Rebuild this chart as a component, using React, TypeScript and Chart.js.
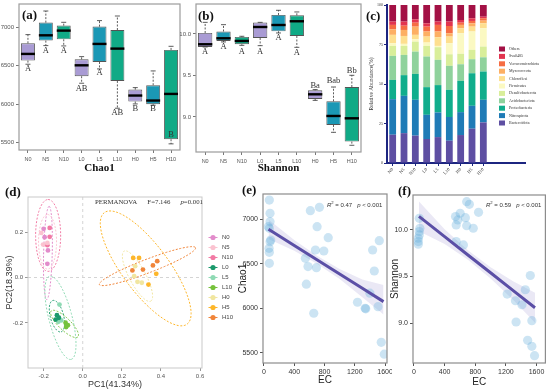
import React, { useEffect, useRef } from 'react';
import { Chart, registerables } from 'chart.js';

Chart.register(...registerables);

const SANS = '"Liberation Sans", Arial, Helvetica, sans-serif';
const SERIF = '"Liberation Serif", "Times New Roman", serif';

// ---------------- shared categories ----------------
const groups = ['N0', 'N5', 'N10', 'L0', 'L5', 'L10', 'H0', 'H5', 'H10'];

// ---------------- (a) Chao1 box statistics ----------------
const chaoLow = [6520, 6762, 6758, 6273, 6459, 5948, 6004, 5987, 5485];
const chaoQ1 = [6567, 6827, 6844, 6364, 6550, 6303, 6035, 6000, 5545];
const chaoMedian = [6654, 6896, 6957, 6506, 6784, 6723, 6113, 6048, 6134];
const chaoQ3 = [6792, 7061, 7022, 6584, 7009, 6965, 6190, 6247, 6706];
const chaoHigh = [6905, 7212, 7065, 6619, 7087, 7147, 6216, 6433, 6753];
const chaoLetters = ['A', 'A', 'A', 'AB', 'A', 'AB', 'B', 'B', 'B'];
const chaoLetterAt = [6455, 6697, 6697, 6203, 6403, 5883, 5944, 5935, 5602];
const chaoTicks = [5500, 6000, 6500, 7000];

// ---------------- (b) Shannon box statistics ----------------
const shanLow = [9.843, 9.904, 9.863, 9.859, 10.012, 9.839, 9.2, 8.815, 8.659];
const shanQ1 = [9.843, 9.916, 9.876, 9.952, 10.032, 9.976, 9.217, 8.904, 8.703];
const shanMedian = [9.876, 9.948, 9.916, 10.084, 10.108, 10.153, 9.273, 9.012, 8.984];
const shanQ3 = [10.012, 10.03, 9.964, 10.137, 10.229, 10.225, 9.321, 9.189, 9.361];
const shanHigh = [10.14, 10.112, 9.972, 10.14, 10.285, 10.265, 9.33, 9.361, 9.502];
const shanLetters = ['A', 'A', 'A', 'A', 'A', 'A', 'Ba', 'Bab', 'Bb'];
const shanLetterAt = [9.787, 9.851, 9.79, 9.783, 9.96, 9.779, 9.378, 9.442, 9.562];
const shanTicks = [9.0, 9.5, 10.0];

// ---------------- (c) relative abundance (%) ----------------
const phyla = ['Bacteroidota', 'Nitrospirota', 'Proteobacteria', 'Acidobacteriota', 'Desulfobacterota', 'Firmicutes', 'Chloroflexi', 'Myxococcota', 'Verrucomicrobiota', 'Sva0485', 'Others'];
const bacteroidota = [17.9, 18.9, 17.3, 15.2, 16.4, 14.1, 17.7, 21.7, 25.7];
const nitrospirota = [22.5, 23.6, 22.7, 15.3, 15.6, 15.0, 14.5, 14.5, 14.3];
const proteobacteria = [12.2, 13.1, 16.4, 17.5, 17.3, 17.2, 19.8, 20.6, 17.9];
const acidobacteriota = [15.2, 12.8, 14.1, 19.4, 16.0, 15.2, 10.5, 8.9, 9.0];
const desulfobacterota = [6.3, 5.7, 6.3, 6.7, 8.0, 7.3, 6.6, 5.9, 6.8];
const firmicutes = [1.7, 1.3, 1.5, 2.1, 0.8, 7.0, 13.0, 11.6, 11.6];
const chloroflexi = [5.3, 5.0, 2.8, 3.8, 5.5, 4.2, 3.2, 3.1, 3.1];
const myxococcota = [3.5, 3.8, 5.2, 3.2, 3.6, 2.1, 2.1, 2.1, 1.7];
const verrucomicrobiota = [2.8, 2.7, 2.5, 3.1, 4.2, 4.6, 1.4, 1.5, 1.5];
const sva0485 = [2.1, 2.6, 2.1, 2.1, 2.1, 2.8, 1.7, 1.7, 1.0];
const others = [10.5, 10.5, 9.1, 11.6, 10.5, 10.5, 9.5, 8.4, 7.4];
const phylaValues = [bacteroidota, nitrospirota, proteobacteria, acidobacteriota, desulfobacterota, firmicutes, chloroflexi, myxococcota, verrucomicrobiota, sva0485, others];
const pctTicks = [0, 25, 50, 75, 100];

// ---------------- (d) PCoA scores ----------------
const pcoaN0 = [[-0.200, 0.214], [-0.195, 0.177], [-0.178, 0.119], [-0.181, 0.060]];
const pcoaN5 = [[-0.212, 0.196], [-0.203, 0.145], [-0.181, 0.152]];
const pcoaN10 = [[-0.169, 0.218], [-0.169, 0.179], [-0.181, 0.142]];
const pcoaL0 = [[-0.132, -0.166], [-0.122, -0.177], [-0.139, -0.185]];
const pcoaL5 = [[-0.119, -0.119], [-0.125, -0.195], [-0.110, -0.189]];
const pcoaL10 = [[-0.088, -0.199], [-0.076, -0.210], [-0.085, -0.218]];
const pcoaH0 = [[0.263, 0.006], [0.280, -0.019], [0.302, -0.023], [0.268, 0.050]];
const pcoaH5 = [[0.258, 0.086], [0.288, 0.086], [0.376, 0.016], [0.336, -0.031]];
const pcoaH10 = [[0.254, 0.031], [0.308, 0.035], [0.359, 0.053], [0.381, 0.072]];
const pcoaPoints = [pcoaN0, pcoaN5, pcoaN10, pcoaL0, pcoaL5, pcoaL10, pcoaH0, pcoaH5, pcoaH10];
// confidence ellipses: centre, first semi-axis vector, second semi-axis vector (data units)
const ellCentre = [[-0.178, 0.108], [-0.180, 0.157], [-0.177, 0.185], [-0.132, -0.170], [-0.114, -0.177], [-0.093, -0.204], [0.280, 0.006], [0.322, 0.040], [0.331, 0.050]];
const ellAxisA = [[0.006, 0.205], [0.0, 0.12], [0.0, 0.158], [0.021, -0.069], [0.055, -0.183], [0.068, -0.057], [0.068, -0.110], [0.212, -0.245], [0.246, 0.081]];
const ellAxisB = [[0.022, 0.0], [0.046, 0.0], [0.064, 0.0], [0.033, 0.0075], [0.0575, 0.0129], [-0.0213, -0.0189], [0.037, 0.017], [0.095, 0.062], [0.012, -0.028]];
const pc1Ticks = [-0.2, 0, 0.2, 0.4, 0.6];
const pc2Ticks = [-0.2, 0, 0.2];

// ---------------- (e) Chao1 vs EC ----------------
const ecE = [71, 80, 80, 57, 71, 89, 80, 67, 71, 71, 613, 733, 702, 849, 680, 791, 547, 582, 693, 560, 658, 1236, 1337, 1345, 1436, 1458, 1524, 1400, 1507, 1550, 1590];
const chaoE = [7212, 7064, 6970, 6914, 6896, 6765, 6746, 6672, 6627, 6504, 7093, 7131, 6914, 6791, 6653, 6642, 6560, 6467, 6455, 6270, 5945, 6068, 6001, 5995, 6653, 6418, 6757, 6170, 6019, 5620, 5487];
const fitXE = [60, 400, 700, 1000, 1300, 1580];
const fitYE = [6885, 6704, 6544, 6384, 6224, 6075];
const bandHiE = [6995, 6764, 6589, 6439, 6324, 6260];
const bandLoE = [6775, 6644, 6499, 6329, 6124, 5930];
const ecTicks = [0, 400, 800, 1200, 1600];

// ---------------- (f) Shannon vs EC ----------------
const ecF = [69, 69, 69, 56, 56, 56, 77, 688, 723, 603, 542, 572, 671, 551, 688, 843, 774, 551, 645, 1519, 1217, 1454, 1325, 1410, 1333, 1539, 1484, 1539, 1574];
const shanF = [10.125, 9.982, 9.946, 9.911, 9.875, 9.847, 10.018, 10.303, 10.275, 10.179, 10.143, 10.107, 10.132, 10.054, 10.046, 10.189, 10.018, 9.875, 9.839, 9.511, 9.312, 9.358, 9.240, 9.197, 9.012, 9.026, 8.815, 8.751, 8.651];
const fitXF = [65, 400, 700, 1000, 1300, 1580];
const fitYF = [10.145, 9.928, 9.734, 9.540, 9.346, 9.165];
const bandHiF = [10.305, 10.008, 9.784, 9.600, 9.446, 9.325];
const bandLoF = [9.985, 9.848, 9.684, 9.480, 9.246, 9.005];

// ---------------- styles ----------------
const boxFill = ['#a99bd4', '#1b98b5', '#10aa86'];
const phylaColors = ['#5e4fa2', '#1f7bb6', '#10ad8c', '#8fd29c', '#d9ee9a', '#fbf9c2', '#fedf8f', '#fdaf63', '#f66d43', '#e2344f', '#a31145'];
const groupColors = ['#e28ccb', '#fbc3d0', '#f27aa4', '#1b9a6c', '#8fdab4', '#76c23c', '#f1e6a0', '#fdb62a', '#f0853a'];
const NAVY = '#1c2580';

// ---------------- helpers ----------------
function fixV(size: number) {
  return (s: any) => { s.width = size; s.paddingTop = 0; s.paddingBottom = 0; };
}
function fixH(size: number) {
  return (s: any) => { s.height = size; s.paddingLeft = 0; s.paddingRight = 0; };
}
function useTicks(values: number[]) {
  return (s: any) => { s.ticks = values.map((v) => ({ value: v })); };
}
function axisBase(fontSize: number, tickColor = '#777', family = SANS, labelColor = '#555') {
  return {
    grid: { display: true, drawOnChartArea: false, drawTicks: true, tickLength: 3, color: tickColor, lineWidth: 1, offset: false },
    border: { display: false },
    ticks: { font: { size: fontSize, family }, color: labelColor, padding: 2, autoSkip: false, maxRotation: 0 },
  };
}
function framePlugin(color: string, lw: number) {
  return {
    id: 'frame',
    afterDraw(chart: any) {
      const { ctx, chartArea: a } = chart;
      ctx.save();
      ctx.strokeStyle = color;
      ctx.lineWidth = lw;
      ctx.strokeRect(a.left, a.top, a.right - a.left, a.bottom - a.top);
      ctx.restore();
    },
  };
}
type Part = { t: string; it?: boolean; sup?: boolean };
function richText(ctx: any, x: number, y: number, parts: Part[], size: number, family: string, color: string) {
  let cx = x;
  ctx.save();
  ctx.fillStyle = color;
  ctx.textAlign = 'left';
  ctx.textBaseline = 'alphabetic';
  for (const p of parts) {
    const fs = p.sup ? size * 0.7 : size;
    ctx.font = `${p.it ? 'italic ' : ''}${fs}px ${family}`;
    ctx.fillText(p.t, cx, p.sup ? y - size * 0.45 : y);
    cx += ctx.measureText(p.t).width;
  }
  ctx.restore();
}
const baseOpts = {
  animation: false,
  responsive: false,
  devicePixelRatio: 1,
  events: [],
};

// ---------------- box-plot chart (a)/(b) ----------------
function boxConfig(p: any) {
  const boxPlugin = {
    id: 'boxExtras',
    afterDatasetsDraw(chart: any) {
      const ctx = chart.ctx;
      const ys = chart.scales.y;
      const meta = chart.getDatasetMeta(0);
      ctx.save();
      meta.data.forEach((bar: any, i: number) => {
        const x = bar.x;
        const w = bar.width;
        const yq1 = ys.getPixelForValue(p.q1[i]);
        const yq3 = ys.getPixelForValue(p.q3[i]);
        const ylo = ys.getPixelForValue(p.lo[i]);
        const yhi = ys.getPixelForValue(p.hi[i]);
        ctx.strokeStyle = '#333';
        ctx.lineWidth = 0.8;
        ctx.setLineDash([2, 1.5]);
        ctx.beginPath();
        ctx.moveTo(x, yq3); ctx.lineTo(x, yhi);
        ctx.moveTo(x, yq1); ctx.lineTo(x, ylo);
        ctx.stroke();
        ctx.setLineDash([]);
        ctx.beginPath();
        ctx.moveTo(x - 2.5, yhi); ctx.lineTo(x + 2.5, yhi);
        ctx.moveTo(x - 2.5, ylo); ctx.lineTo(x + 2.5, ylo);
        ctx.stroke();
        const ym = ys.getPixelForValue(p.med[i]);
        ctx.strokeStyle = '#000';
        ctx.lineWidth = 2.4;
        ctx.beginPath();
        ctx.moveTo(x - w / 2, ym); ctx.lineTo(x + w / 2, ym);
        ctx.stroke();
        ctx.fillStyle = '#333';
        ctx.font = `8.5px ${SERIF}`;
        ctx.textAlign = 'center';
        ctx.textBaseline = 'middle';
        ctx.fillText(p.letters[i], x, ys.getPixelForValue(p.letterAt[i]));
      });
      ctx.restore();
    },
  };
  const xa: any = axisBase(5.5);
  const ya: any = axisBase(6);
  return {
    type: 'bar',
    data: {
      labels: groups,
      datasets: [{
        data: groups.map((_, i) => [p.q1[i], p.q3[i]]),
        backgroundColor: groups.map((_, i) => boxFill[i % 3]),
        borderColor: '#555',
        borderWidth: 0.9,
        borderSkipped: false,
        barPercentage: 0.78,
        categoryPercentage: 1,
      }],
    },
    options: {
      ...baseOpts,
      layout: { padding: { top: p.padTop, right: p.padRight, left: 0, bottom: 0 } },
      plugins: { legend: { display: false }, tooltip: { enabled: false } },
      scales: {
        x: {
          ...xa,
          ticks: { ...xa.ticks, padding: 3 },
          title: { display: true, text: p.title, font: { size: 11, weight: 'bold', family: SERIF }, color: '#111', padding: { top: 0, bottom: 1.4 } },
          afterFit: fixH(p.xH),
        },
        y: {
          ...ya,
          min: p.min,
          max: p.max,
          ticks: { ...ya.ticks, callback: p.fmt },
          afterBuildTicks: useTicks(p.ticks),
          afterFit: fixV(p.yW),
        },
      },
    },
    plugins: [framePlugin('#9c9c9c', 1.2), boxPlugin],
  };
}

function chao1Config() {
  return boxConfig({
    q1: chaoQ1, q3: chaoQ3, lo: chaoLow, hi: chaoHigh, med: chaoMedian, letters: chaoLetters, letterAt: chaoLetterAt,
    min: 5405, max: 7303, ticks: chaoTicks, fmt: (v: number) => String(v), title: 'Chao1',
    padTop: 4, padRight: 5, yW: 19, xH: 26,
  });
}
function shannonConfig() {
  return boxConfig({
    q1: shanQ1, q3: shanQ3, lo: shanLow, hi: shanHigh, med: shanMedian, letters: shanLetters, letterAt: shanLetterAt,
    min: 8.578, max: 10.361, ticks: shanTicks, fmt: (v: number) => v.toFixed(1), title: 'Shannon',
    padTop: 4, padRight: 4, yW: 16, xH: 24,
  });
}

// ---------------- stacked bar (c) ----------------
function stackConfig() {
  const legendPlugin = {
    id: 'phylaLegend',
    afterDraw(chart: any) {
      const { ctx, chartArea: a } = chart;
      const xs = chart.scales.x;
      ctx.save();
      // extended axis line
      ctx.strokeStyle = NAVY;
      ctx.lineWidth = 2;
      ctx.beginPath();
      ctx.moveTo(a.right - 1, xs.top);
      ctx.lineTo(a.right + 37, xs.top);
      ctx.stroke();
      const ds = chart.data.datasets;
      const x0 = a.right + 10;
      let y = a.top + 44;
      ctx.font = `4px ${SERIF}`;
      ctx.textBaseline = 'middle';
      ctx.textAlign = 'left';
      for (let k = ds.length - 1; k >= 0; k--) {
        ctx.fillStyle = ds[k].backgroundColor;
        ctx.fillRect(x0, y - 2.5, 6, 5);
        ctx.fillStyle = '#333';
        ctx.fillText(ds[k].label, x0 + 10, y);
        y += 7.4;
      }
      ctx.restore();
    },
  };
  const ax = (size: number) => ({
    grid: { display: true, drawOnChartArea: false, drawTicks: true, tickLength: 3, color: NAVY, lineWidth: 1, offset: false },
    border: { display: true, color: NAVY, width: 2 },
    ticks: { font: { size, family: SERIF }, color: '#333', padding: 1, autoSkip: false },
  });
  const xa: any = ax(4.5);
  const ya: any = ax(4);
  return {
    type: 'bar',
    data: {
      labels: groups,
      datasets: phyla.map((name, k) => ({
        label: name,
        data: phylaValues[k],
        backgroundColor: phylaColors[k],
        borderWidth: 0,
        barPercentage: 0.6,
        categoryPercentage: 1,
      })),
    },
    options: {
      ...baseOpts,
      layout: { padding: { top: 5, right: 61, left: 0, bottom: 0 } },
      plugins: { legend: { display: false }, tooltip: { enabled: false } },
      scales: {
        x: { ...xa, stacked: true, ticks: { ...xa.ticks, maxRotation: 45, minRotation: 45 }, afterFit: fixH(12) },
        y: {
          ...ya, stacked: true, min: 0, max: 100,
          ticks: { ...ya.ticks, callback: (v: number) => String(v) },
          afterBuildTicks: useTicks(pctTicks),
          title: { display: true, text: 'Relative Abundance(%)', font: { size: 5.5, family: SERIF }, color: '#333', padding: { top: 8.5, bottom: 0 } },
          afterFit: fixV(27),
        },
      },
    },
    plugins: [legendPlugin],
  };
}

// ---------------- PCoA (d) ----------------
function pcoaConfig() {
  const extras = {
    id: 'pcoaExtras',
    beforeDatasetsDraw(chart: any) {
      const { ctx, chartArea: a } = chart;
      const xs = chart.scales.x, ys = chart.scales.y;
      ctx.save();
      ctx.beginPath();
      ctx.rect(a.left, a.top, a.right - a.left, a.bottom - a.top);
      ctx.clip();
      ctx.strokeStyle = '#d4d4d4';
      ctx.lineWidth = 1;
      ctx.setLineDash([3, 3]);
      ctx.beginPath();
      const x0 = xs.getPixelForValue(0), y0 = ys.getPixelForValue(0);
      ctx.moveTo(x0, a.top); ctx.lineTo(x0, a.bottom);
      ctx.moveTo(a.left, y0); ctx.lineTo(a.right, y0);
      ctx.stroke();
      ctx.setLineDash([2, 1.6]);
      ctx.lineWidth = 1;
      for (let g = 0; g < ellCentre.length; g++) {
        ctx.strokeStyle = groupColors[g];
        ctx.beginPath();
        for (let k = 0; k <= 90; k++) {
          const t = (k / 90) * Math.PI * 2;
          const vx = ellCentre[g][0] + ellAxisA[g][0] * Math.cos(t) + ellAxisB[g][0] * Math.sin(t);
          const vy = ellCentre[g][1] + ellAxisA[g][1] * Math.cos(t) + ellAxisB[g][1] * Math.sin(t);
          const px = xs.getPixelForValue(vx), py = ys.getPixelForValue(vy);
          if (k === 0) ctx.moveTo(px, py); else ctx.lineTo(px, py);
        }
        ctx.stroke();
      }
      ctx.restore();
    },
    afterDraw(chart: any) {
      const { ctx, chartArea: a } = chart;
      richText(ctx, a.left + 67, a.top + 7, [{ t: 'PERMANOVA      F=7.146      ' }, { t: 'p', it: true }, { t: '=0.001' }], 6.8, SERIF, '#333');
      // legend
      ctx.save();
      const ds = chart.data.datasets;
      const lx = a.right + 11;
      let ly = a.top + 40.5;
      ctx.font = `6px ${SANS}`;
      ctx.textBaseline = 'middle';
      ctx.textAlign = 'left';
      for (let k = 0; k < ds.length; k++) {
        ctx.strokeStyle = groupColors[k];
        ctx.lineWidth = 1;
        ctx.beginPath();
        ctx.moveTo(lx - 4.5, ly); ctx.lineTo(lx + 4.5, ly);
        ctx.stroke();
        ctx.fillStyle = groupColors[k];
        ctx.beginPath();
        ctx.arc(lx, ly, 2.6, 0, Math.PI * 2);
        ctx.fill();
        ctx.fillStyle = '#444';
        ctx.fillText(ds[k].label, lx + 9, ly);
        ly += 10;
      }
      ctx.restore();
    },
  };
  const xa: any = axisBase(6, '#999');
  const ya: any = axisBase(6, '#999');
  return {
    type: 'scatter',
    data: {
      datasets: groups.map((g, k) => ({
        label: g,
        data: pcoaPoints[k].map(([x, y]) => ({ x, y })),
        backgroundColor: groupColors[k],
        borderWidth: 0,
        pointRadius: 2.4,
      })),
    },
    options: {
      ...baseOpts,
      layout: { padding: { top: 9, right: 43, left: 0, bottom: 0 } },
      plugins: { legend: { display: false }, tooltip: { enabled: false } },
      scales: {
        x: {
          ...xa, type: 'linear', min: -0.28, max: 0.61,
          ticks: { ...xa.ticks, callback: (v: number) => v.toFixed(1) },
          afterBuildTicks: useTicks(pc1Ticks),
          title: { display: true, text: 'PC1(41.34%)', font: { size: 9, family: SANS }, color: '#333', padding: { top: 0, bottom: 0 } },
          afterFit: fixH(22),
        },
        y: {
          ...ya, min: -0.398, max: 0.354,
          ticks: { ...ya.ticks, callback: (v: number) => v.toFixed(1) },
          afterBuildTicks: useTicks(pc2Ticks),
          title: { display: true, text: 'PC2(18.39%)', font: { size: 9, family: SANS }, color: '#333', padding: { top: 4.5, bottom: 0 } },
          afterFit: fixV(28),
        },
      },
    },
    plugins: [framePlugin('#c9c9c9', 1), extras],
  };
}

// ---------------- regression charts (e)/(f) ----------------
function regConfig(p: any) {
  const note = {
    id: 'regNote',
    afterDraw(chart: any) {
      const { ctx, chartArea: a } = chart;
      richText(ctx, a.left + p.noteDx, a.top + p.noteDy, [
        { t: 'R', it: true }, { t: '2', sup: true }, { t: ' = ' + p.r2 + '   ' }, { t: 'p', it: true }, { t: ' < 0.001' },
      ], 6, SANS, '#333');
    },
  };
  const xa: any = axisBase(7, '#555', SANS, '#333');
  const ya: any = axisBase(7, '#555', SANS, '#333');
  const toPts = (xs: number[], ys: number[]) => xs.map((x, i) => ({ x, y: ys[i] }));
  return {
    type: 'scatter',
    data: {
      datasets: [
        { type: 'line', data: toPts(p.fitX, p.hi), borderWidth: 0, pointRadius: 0, fill: false, order: 3 },
        { type: 'line', data: toPts(p.fitX, p.lo), borderWidth: 0, pointRadius: 0, fill: '-1', backgroundColor: 'rgba(150,140,205,0.2)', order: 3 },
        { type: 'scatter', data: toPts(p.x, p.y), pointRadius: 4.6, backgroundColor: 'rgba(95,170,218,0.32)', borderWidth: 0, order: 2 },
        { type: 'line', data: toPts(p.fitX, p.fitY), borderColor: '#5b4fa6', borderWidth: 3, pointRadius: 0, fill: false, order: 1 },
      ],
    },
    options: {
      ...baseOpts,
      layout: { padding: { top: p.padTop, right: p.padRight, left: 0, bottom: 0 } },
      plugins: { legend: { display: false }, tooltip: { enabled: false } },
      scales: {
        x: {
          ...xa, type: 'linear', min: p.xmin, max: p.xmax,
          ticks: { ...xa.ticks, callback: (v: number) => String(v) },
          afterBuildTicks: useTicks(ecTicks),
          title: { display: true, text: 'EC', font: { size: 10, family: SANS }, color: '#222', padding: { top: 0, bottom: p.xtPad } },
          afterFit: fixH(27),
        },
        y: {
          ...ya, min: p.ymin, max: p.ymax,
          ticks: { ...ya.ticks, callback: p.yfmt },
          afterBuildTicks: useTicks(p.yticks),
          title: { display: true, text: p.ytitle, font: { size: 10, family: SANS }, color: '#222', padding: { top: p.ytPad, bottom: 0 } },
          afterFit: fixV(28),
        },
      },
    },
    plugins: [framePlugin('#8c8c8c', 1.2), note],
  };
}
function chaoEcConfig() {
  return regConfig({
    x: ecE, y: chaoE, fitX: fitXE, fitY: fitYE, hi: bandHiE, lo: bandLoE,
    xmin: -13, xmax: 1626, ymin: 5388, ymax: 7280, yticks: chaoTicks, yfmt: (v: number) => String(v),
    ytitle: 'Chao1', padTop: 8, padRight: 5, xtPad: 4, ytPad: 2, noteDx: 64, noteDy: 13, r2: '0.47',
  });
}
function shanEcConfig() {
  return regConfig({
    x: ecF, y: shanF, fitX: fitXF, fitY: fitYF, hi: bandHiF, lo: bandLoF,
    xmin: -13, xmax: 1716, ymin: 8.572, ymax: 10.375, yticks: shanTicks, yfmt: (v: number) => v.toFixed(1),
    ytitle: 'Shannon', padTop: 9, padRight: 3, xtPad: 2, ytPad: 4, noteDx: 73, noteDy: 12, r2: '0.59',
  });
}

// ---------------- components ----------------
function ChartCanvas({ left, top, width, height, build }: any) {
  const ref = useRef<HTMLCanvasElement | null>(null);
  useEffect(() => {
    if (!ref.current) return;
    const chart = new Chart(ref.current, build());
    return () => chart.destroy();
  }, []);
  return (
    <canvas
      ref={ref}
      width={width}
      height={height}
      style={{ position: 'absolute', left, top, width, height }}
    />
  );
}

function PanelTag({ text, left, top }: { text: string; left: number; top: number }) {
  return (
    <span
      style={{
        position: 'absolute', left, top, font: `bold 13px ${SERIF}`, lineHeight: '13px', color: '#111', whiteSpace: 'nowrap',
      }}
    >
      {text}
    </span>
  );
}

export default function App() {
  return (
    <div style={{ position: 'absolute', left: 0, top: 0, width: 550, height: 390, background: '#fff', overflow: 'hidden' }}>
      <ChartCanvas left={0} top={0} width={185} height={176} build={chao1Config} />
      <ChartCanvas left={180} top={0} width={185} height={176} build={shannonConfig} />
      <ChartCanvas left={360} top={0} width={190} height={175} build={stackConfig} />
      <ChartCanvas left={0} top={188} width={245} height={202} build={pcoaConfig} />
      <ChartCanvas left={235} top={186} width={157} height={204} build={chaoEcConfig} />
      <ChartCanvas left={385} top={186} width={165} height={204} build={shanEcConfig} />
      <PanelTag text="(a)" left={22} top={8} />
      <PanelTag text="(b)" left={198} top={9} />
      <PanelTag text="(c)" left={366} top={9} />
      <PanelTag text="(d)" left={5} top={185} />
      <PanelTag text="(e)" left={242} top={183} />
      <PanelTag text="(f)" left={398} top={184} />
    </div>
  );
}
